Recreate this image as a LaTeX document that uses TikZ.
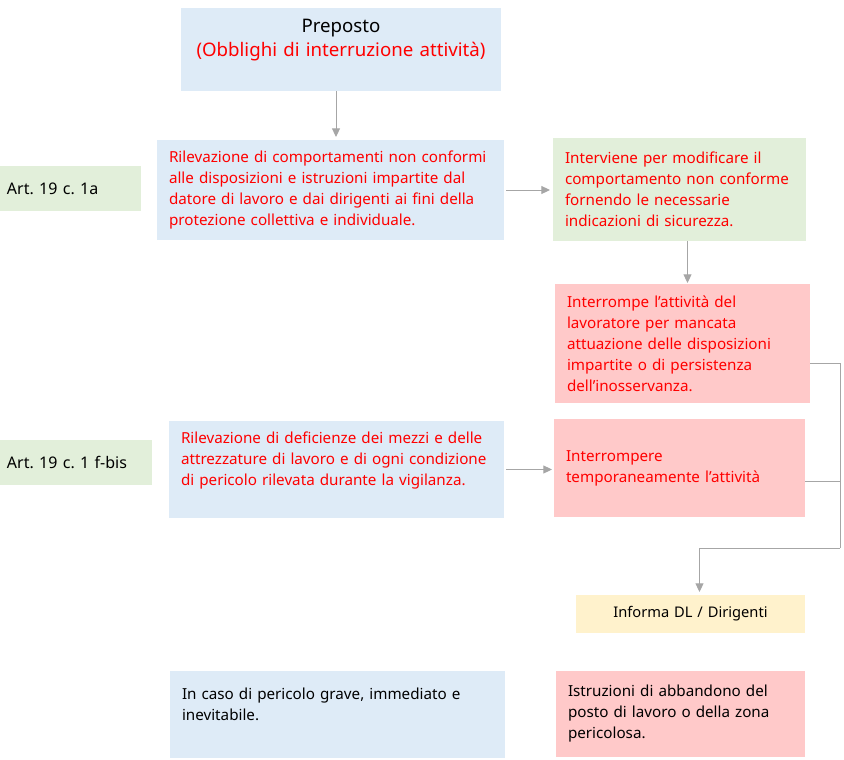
\documentclass[tikz,border=0pt]{standalone}
\usepackage{fontspec}
\setmainfont{Noto Sans}
\usetikzlibrary{arrows.meta}
\definecolor{boxblue}{HTML}{DEEBF7}
\definecolor{boxgreen}{HTML}{E2EFDA}
\definecolor{boxpink}{HTML}{FFC9C9}
\definecolor{boxyellow}{HTML}{FFF2CC}
\definecolor{linegray}{HTML}{A6A6A6}
\definecolor{txtred}{HTML}{FF0000}
\newdimen\px \px=0.75pt
\frenchspacing
\begin{document}
\begin{tikzpicture}[x=0.75pt,y=-0.75pt,
    box/.style={anchor=north west,inner ysep=0pt,inner xsep=12\px,outer sep=0pt,align=left,
      font=\fontsize{11.4}{15.75}\selectfont},
    artbox/.style={box,fill=boxgreen,inner xsep=7\px},
    line/.style={draw=linegray,line width=1\px},
    arr/.style={line,-{Triangle[width=6pt,length=6.5pt]}}]
  \useasboundingbox (0,0) rectangle (844,760);
  \node[box,fill=boxblue,minimum width=320\px,minimum height=83\px,align=center,text width=296\px,
    font=\fontsize{14}{18}\selectfont] (prep) at (181,8)
    {Preposto\\ \textcolor{txtred}{(Obblighi di interruzione attività)}\\ \mbox{}};
  \node[artbox,minimum width=141\px,minimum height=45\px,text width=127\px,font=\fontsize{12}{15.75}\selectfont] (art1a) at (0,166) {Art. 19 c. 1a};
  \node[box,fill=boxblue,text=txtred,minimum width=347\px,minimum height=100\px,text width=323\px] (rilev1) at (157,140)
    {Rilevazione di comportamenti non conformi\\ alle disposizioni e istruzioni impartite dal\\
     datore di lavoro e dai dirigenti ai fini della\\ protezione collettiva e individuale.};
  \node[box,fill=boxgreen,text=txtred,minimum width=253\px,minimum height=103\px,text width=229\px] (interv) at (553,138)
    {Interviene per modificare il\\ comportamento non conforme\\ fornendo le necessarie\\ indicazioni di sicurezza.};
  \node[box,fill=boxpink,text=txtred,minimum width=255\px,minimum height=119\px,text width=231\px] (interr) at (555,284)
    {Interrompe l’attività del\\ lavoratore per mancata\\ attuazione delle disposizioni\\ impartite o di persistenza\\ dell’inosservanza.};
  \node[artbox,minimum width=152\px,minimum height=45\px,text width=138\px,font=\fontsize{12}{15.75}\selectfont] (art1f) at (0,440) {Art. 19 c. 1 f-bis};
  \node[box,fill=boxblue,text=txtred,minimum width=335\px,minimum height=97\px,text width=311\px] (rilev2) at (169,421)
    {Rilevazione di deficienze dei mezzi e delle\\ attrezzature di lavoro e di ogni condizione\\
     di pericolo rilevata durante la vigilanza.\\ \mbox{}};
  \node[box,fill=boxpink,text=txtred,minimum width=251\px,minimum height=98\px,text width=227\px] (interr2) at (554,419)
    {Interrompere\\ temporaneamente l’attività};
  \node[box,fill=boxyellow,minimum width=229\px,minimum height=38\px,text width=205\px,align=center,
    font=\fontsize{11}{14}\selectfont] (inform) at (576,595) {Informa DL / Dirigenti};
  \node[box,fill=boxblue,minimum width=335\px,minimum height=87\px,text width=311\px] (peric) at (170,671)
    {In caso di pericolo grave, immediato e\\ inevitabile.\\ \mbox{}};
  \node[box,fill=boxpink,minimum width=249\px,minimum height=86\px,text width=225\px] (abband) at (556,671)
    {Istruzioni di abbandono del\\ posto di lavoro o della zona\\ pericolosa.};
  \coordinate (join) at (840,548);
  \draw[arr,shorten >=3\px] ([xshift=-5\px]prep.south) -- ([xshift=-5\px]prep.south |- rilev1.north);
  \draw[arr,shorten <=2\px,shorten >=3\px] (rilev1.east) -- (rilev1.east -| interv.west);
  \draw[arr,shorten >=1\px] ([xshift=8\px]interv.south) -- ([xshift=8\px]interv.south |- interr.north);
  \draw[arr,shorten <=2\px,shorten >=2\px] (rilev2.east) -- (rilev2.east -| interr2.west);
  \draw[line] ([yshift=-20\px]interr.east) -| (join);
  \draw[line] ([yshift=-13\px]interr2.east) -| (join);
  \draw[arr,shorten >=3\px] (join) -| ([xshift=9\px]inform.north);
\end{tikzpicture}
\end{document}
